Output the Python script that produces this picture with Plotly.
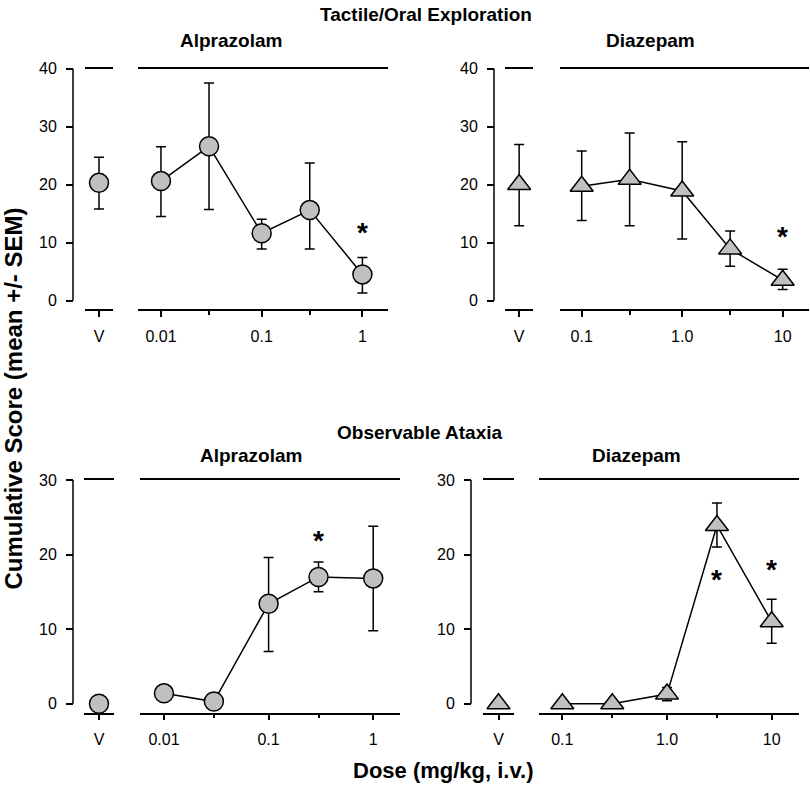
import math
import plotly.graph_objects as go

W, H = 810, 785
# the viewer places figure pixel f at screen row A + B*f; invert it so the
# layout lands on the reference rows
A, B = 7.75, 0.989
FONT = "Liberation Sans, Arial, sans-serif"
FILL = "#c0c0c0"

# ---------------- data ----------------
veh_label = ["V"]

# Tactile/Oral Exploration - Alprazolam
tl_veh_mean = [20.3]
tl_veh_hi = [24.7]
tl_veh_lo = [15.8]
tl_dose = [0.01, 0.03, 0.1, 0.3, 1]
tl_mean = [20.6, 26.6, 11.6, 15.6, 4.5]
tl_hi = [26.5, 37.5, 14.0, 23.7, 7.4]
tl_lo = [14.5, 15.7, 8.9, 8.9, 1.3]
tl_star_dose = [1]
tl_star_y = [12.4]

# Tactile/Oral Exploration - Diazepam
tr_veh_mean = [20.0]
tr_veh_hi = [26.9]
tr_veh_lo = [12.9]
tr_dose = [0.1, 0.3, 1, 3, 10]
tr_mean = [19.7, 20.9, 18.9, 8.9, 3.5]
tr_hi = [25.8, 28.9, 27.4, 12.0, 5.4]
tr_lo = [13.8, 12.9, 10.6, 5.9, 1.9]
tr_star_dose = [10]
tr_star_y = [11.8]

# Observable Ataxia - Alprazolam
bl_veh_mean = [0.0]
bl_veh_hi = [0.0]
bl_veh_lo = [0.0]
bl_dose = [0.01, 0.03, 0.1, 0.3, 1]
bl_mean = [1.4, 0.3, 13.4, 17.0, 16.8]
bl_hi = [1.4, 0.3, 19.6, 19.0, 23.8]
bl_lo = [1.4, 0.3, 7.0, 15.0, 9.8]
bl_star_dose = [0.3]
bl_star_y = [22.4]

# Observable Ataxia - Diazepam
br_veh_mean = [0.0]
br_veh_hi = [0.0]
br_veh_lo = [0.0]
br_dose = [0.1, 0.3, 1, 3, 10]
br_mean = [0.0, 0.0, 1.3, 23.9, 11.0]
br_hi = [0.0, 0.0, 2.2, 26.9, 14.0]
br_lo = [0.0, 0.0, 0.4, 21.0, 8.1]
br_star_dose = [3, 10]
br_star_y = [17.2, 18.6]

alp_ticks = [0.01, 0.1, 1]
alp_ticktext = ["0.01", "0.1", "1"]
alp_minor = [0.03, 0.3]
dia_ticks = [0.1, 1, 10]
dia_ticktext = ["0.1", "1.0", "10"]
dia_minor = [0.3, 3]

# ---------------- helpers ----------------
def xd(a, b):
    return [a / W, b / W]

def py2p(py):
    f = (py - A) / B
    return 1 - f / H

def yd(top, bottom):
    return [py2p(bottom), py2p(top)]

def plus(hi, m):
    return [h - v for h, v in zip(hi, m)]

def minus(lo, m):
    return [v - l for l, v in zip(lo, m)]

fig = go.Figure()

panels = [
    ("x", "x2", "y", "circle", (tl_veh_mean, tl_veh_hi, tl_veh_lo),
     (tl_dose, tl_mean, tl_hi, tl_lo), (tl_star_dose, tl_star_y)),
    ("x3", "x4", "y2", "triangle-up", (tr_veh_mean, tr_veh_hi, tr_veh_lo),
     (tr_dose, tr_mean, tr_hi, tr_lo), (tr_star_dose, tr_star_y)),
    ("x5", "x6", "y3", "circle", (bl_veh_mean, bl_veh_hi, bl_veh_lo),
     (bl_dose, bl_mean, bl_hi, bl_lo), (bl_star_dose, bl_star_y)),
    ("x7", "x8", "y4", "triangle-up", (br_veh_mean, br_veh_hi, br_veh_lo),
     (br_dose, br_mean, br_hi, br_lo), (br_star_dose, br_star_y)),
]

annotations = []
for vx, dx, yy, sym, veh, dose, stars in panels:
    msize = 19 if sym == "circle" else 20
    marker = dict(symbol=sym, size=msize, color=FILL, line=dict(color="black", width=1.5))
    vm, vh, vl = veh
    fig.add_trace(go.Scatter(
        x=veh_label, y=vm, xaxis=vx, yaxis=yy, mode="markers", marker=marker,
        error_y=dict(type="data", array=plus(vh, vm), arrayminus=minus(vl, vm),
                     color="black", thickness=1.5, width=5),
        cliponaxis=False, showlegend=False, hoverinfo="skip"))
    d, m, hi, lo = dose
    fig.add_trace(go.Scatter(
        x=d, y=m, xaxis=dx, yaxis=yy, mode="lines+markers", marker=marker,
        line=dict(color="black", width=1.5),
        error_y=dict(type="data", array=plus(hi, m), arrayminus=minus(lo, m),
                     color="black", thickness=1.5, width=5),
        cliponaxis=False, showlegend=False, hoverinfo="skip"))
    sd, sy = stars
    for s_x, s_y in zip(sd, sy):
        annotations.append(dict(
            x=math.log10(s_x), y=s_y, xref=dx, yref=yy, text="<b>*</b>",
            showarrow=False, font=dict(family=FONT, size=28, color="black"),
            xanchor="center", yanchor="middle", yshift=-4))

# ---------------- axes ----------------
TOP_T, TOP_B = 68.3, 309.0
BOT_T, BOT_B = 479.3, 711.7

common_x = dict(showline=True, mirror=True, linecolor="black", linewidth=1.5,
                ticks="outside", ticklen=6, tickwidth=1.5, tickcolor="black",
                showgrid=False, zeroline=False, ticklabelstandoff=6,
                tickfont=dict(family=FONT, size=16, color="black"))

def veh_axis(a, b, anchor):
    return dict(common_x, domain=xd(a, b), anchor=anchor, type="category",
                range=[-0.5, 0.5])

def dose_axis(a, b, anchor, rng, tv, tt, mv):
    return dict(common_x, domain=xd(a, b), anchor=anchor, type="log", range=rng,
                tickmode="array", tickvals=tv, ticktext=tt,
                minor=dict(tickmode="array", tickvals=mv, ticks="outside", ticklen=4,
                           tickwidth=1.5, tickcolor="black", showgrid=False))

common_y = dict(showline=False, ticks="outside", ticklen=7, tickwidth=1.5,
                tickcolor="black", showgrid=False, zeroline=False, dtick=10,
                tick0=0, ticklabelstandoff=6, anchor="free",
                tickfont=dict(family=FONT, size=16, color="black"))

fig.update_layout(
    width=W, height=H, margin=dict(l=0, r=0, t=0, b=0),
    plot_bgcolor="white", paper_bgcolor="white",
    xaxis=veh_axis(85, 113, "y"),
    xaxis2=dose_axis(138.3, 388.3, "y", [-2.225, 0.257], alp_ticks, alp_ticktext, alp_minor),
    xaxis3=veh_axis(505, 533.3, "y2"),
    xaxis4=dose_axis(560, 809, "y2", [-1.216, 1.262], dia_ticks, dia_ticktext, dia_minor),
    xaxis5=veh_axis(84, 114, "y3"),
    xaxis6=dose_axis(140, 400, "y3", [-2.229, 0.256], alp_ticks, alp_ticktext, alp_minor),
    xaxis7=veh_axis(483, 514, "y4"),
    xaxis8=dose_axis(539, 799, "y4", [-1.223, 1.261], dia_ticks, dia_ticktext, dia_minor),
    yaxis=dict(common_y, domain=yd(TOP_T, TOP_B), range=[-1.55, 40], position=73 / W),
    yaxis2=dict(common_y, domain=yd(TOP_T, TOP_B), range=[-1.55, 40], position=494 / W),
    yaxis3=dict(common_y, domain=yd(BOT_T, BOT_B), range=[-1.17, 30], position=73 / W),
    yaxis4=dict(common_y, domain=yd(BOT_T, BOT_B), range=[-1.17, 30], position=471 / W),
)

shapes = []
for yref, xpx, top in [("y", 73, 40), ("y2", 494, 40), ("y3", 73, 30), ("y4", 471, 30)]:
    shapes.append(dict(type="line", xref="paper", yref=yref, x0=xpx / W, x1=xpx / W,
                       y0=0, y1=top, line=dict(color="black", width=1.5)))
fig.update_layout(shapes=shapes)

def title(text, xpx, ypx, size=19, angle=0):
    return dict(text=f"<b>{text}</b>", x=xpx / W, y=py2p(ypx), xref="paper", yref="paper",
                showarrow=False, xanchor="center", yanchor="middle", textangle=angle,
                font=dict(family=FONT, size=size, color="black"))

annotations += [
    title("Tactile/Oral Exploration", 426, 14),
    title("Alprazolam", 231, 40),
    title("Diazepam", 650, 40),
    title("Observable Ataxia", 420, 432),
    title("Alprazolam", 251, 455),
    title("Diazepam", 636, 455),
    title("Cumulative Score (mean +/- SEM)", 14, 398, size=24, angle=-90),
    title("Dose (mg/kg, i.v.)", 443, 770, size=22),
]
fig.update_layout(annotations=annotations)

post = ("document.documentElement.style.margin='0';document.documentElement.style.padding='0';"
        "document.documentElement.style.overflow='hidden';"
        "document.body.style.margin='0';document.body.style.padding='0';"
        "document.body.style.overflow='hidden';")
fig.write_html("out.html", post_script=post, config={"displayModeBar": False})
